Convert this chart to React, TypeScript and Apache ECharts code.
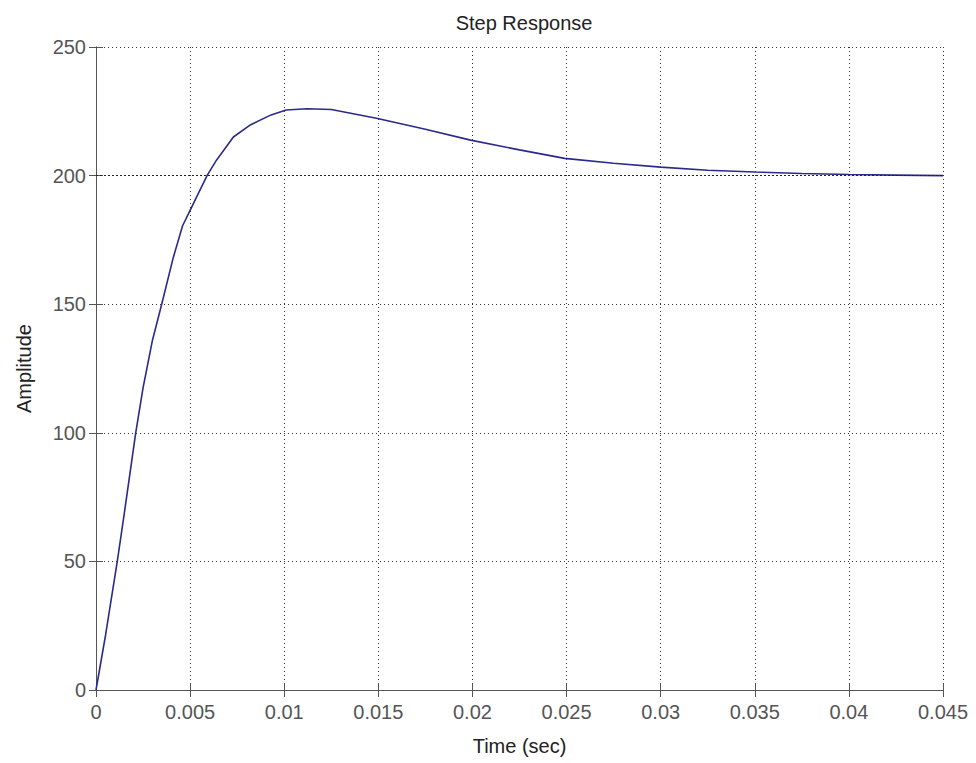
import React, { useEffect, useRef } from "react";
import * as echarts from "echarts";

const times = [
  0, 0.0005, 0.00113, 0.0015, 0.00211, 0.0025, 0.003, 0.00349, 0.0041, 0.0046,
  0.005, 0.0054, 0.0059, 0.0064, 0.0073, 0.0082, 0.0093, 0.0101, 0.0112, 0.0125,
  0.0149, 0.0175, 0.0199, 0.0225, 0.0249, 0.0275, 0.03, 0.0325, 0.035, 0.0375,
  0.04, 0.0425, 0.045,
];
const amplitudes = [
  0, 21, 50, 68.5, 100, 117.5, 136, 150, 168, 180.5, 186.5, 192.5, 200, 206,
  215, 219.7, 223.6, 225.5, 226, 225.7, 222.3, 218, 213.8, 210, 206.7, 204.8,
  203.3, 202.1, 201.4, 200.8, 200.4, 200.2, 200,
];
const steadyState = 200;
const xTickStep = 0.005;
const xMax = 0.045;
const yTickStep = 50;
const yMax = 250;

const FONT = 'Arial, "Liberation Sans", sans-serif';

export default function App() {
  const ref = useRef<HTMLDivElement>(null);
  useEffect(() => {
    if (!ref.current) return;
    const chart = echarts.init(ref.current, undefined, { renderer: "svg" });
    const axisLine = { show: true, lineStyle: { color: "#555", width: 1 } };
    const axisTick = { show: true, inside: true, length: 7, lineStyle: { color: "#555", width: 1 } };
    const splitLine = { show: true, lineStyle: { color: "#333", type: [1, 3], width: 1 } };
    chart.setOption({
      animation: false,
      backgroundColor: "#ffffff",
      title: {
        text: "Step Response",
        left: 519,
        top: 8,
        textAlign: "center",
        textStyle: { fontFamily: FONT, fontSize: 20, fontWeight: "normal", color: "#222" },
      },
      grid: { left: 96, top: 47, right: 33, bottom: 73, containLabel: false },
      xAxis: [
        {
          type: "value",
          min: 0,
          max: xMax,
          interval: xTickStep,
          name: "Time (sec)",
          nameLocation: "middle",
          nameGap: 46,
          nameTextStyle: { fontFamily: FONT, fontSize: 20, color: "#222" },
          axisLine,
          axisTick,
          splitLine,
          axisLabel: {
            fontFamily: FONT,
            fontSize: 20,
            color: "#555",
            margin: 12,
            formatter: (v: number) => String(Number(v.toFixed(3))),
          },
        },
        {
          type: "value",
          position: "top",
          min: 0,
          max: xMax,
          interval: xTickStep,
          axisLine,
          axisTick,
          splitLine: { show: false },
          axisLabel: { show: false },
        },
      ],
      yAxis: [
        {
          type: "value",
          min: 0,
          max: yMax,
          interval: yTickStep,
          name: "Amplitude",
          nameLocation: "middle",
          nameGap: 62,
          nameRotate: 90,
          nameTextStyle: { fontFamily: FONT, fontSize: 20, color: "#222" },
          axisLine,
          axisTick,
          splitLine,
          axisLabel: { fontFamily: FONT, fontSize: 20, color: "#555", margin: 10 },
        },
        {
          type: "value",
          position: "right",
          min: 0,
          max: yMax,
          interval: yTickStep,
          axisLine,
          axisTick,
          splitLine: { show: false },
          axisLabel: { show: false },
        },
      ],
      series: [
        {
          type: "line",
          xAxisIndex: 0,
          yAxisIndex: 0,
          data: times.map((t, i) => [t, amplitudes[i]]),
          symbol: "none",
          smooth: false,
          lineStyle: { color: "#2a2a8c", width: 1.6 },
          markLine: {
            silent: true,
            symbol: "none",
            label: { show: false },
            lineStyle: { color: "#222", type: [2, 2], width: 1 },
            data: [{ yAxis: steadyState }],
          },
        },
      ],
    });
    return () => chart.dispose();
  }, []);
  return (
    <div
      ref={ref}
      style={{ position: "absolute", left: 0, top: 0, width: 976, height: 763 }}
    />
  );
}
